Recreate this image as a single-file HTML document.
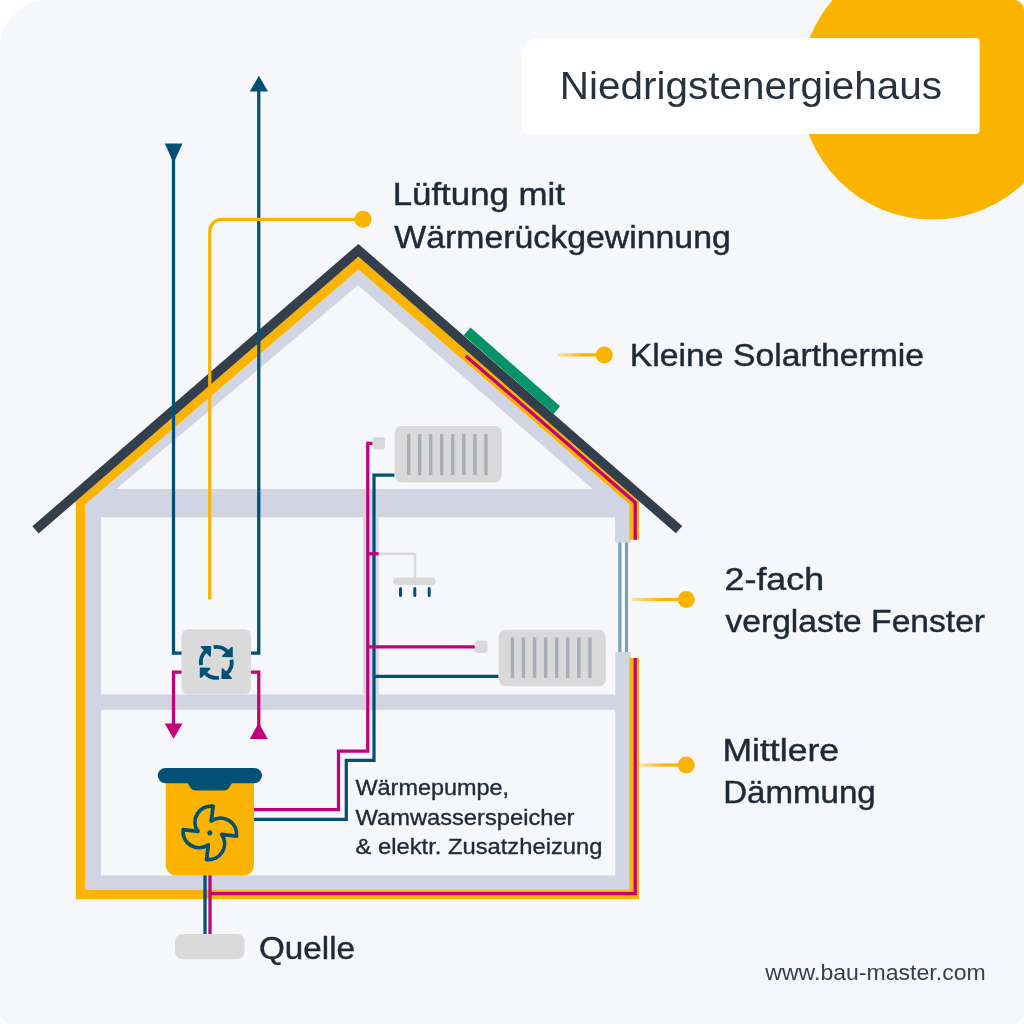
<!DOCTYPE html>
<html lang="de">
<head>
<meta charset="utf-8">
<title>Niedrigstenergiehaus</title>
<style>
  html, body { margin: 0; padding: 0; background: #ffffff; }
  body { width: 1024px; height: 1024px; overflow: hidden; }
  svg { display: block; will-change: transform; transform: translateZ(0); }
  text { font-family: "Liberation Sans", sans-serif; fill: #1f2937; }
  .lbl { font-size: 31px; stroke: #1f2937; stroke-width: 0.45px; }
  .sm { font-size: 21.8px; stroke: #1f2937; stroke-width: 0.35px; }
  .pipe { fill: none; stroke-width: 3.25; }
  .mag { stroke: #c2007b; }
  .blu { stroke: #035076; }
</style>
</head>
<body>
<svg width="1024" height="1024" viewBox="0 0 1024 1024">
  <defs>
    <clipPath id="card">
      <path d="M48 0H1014A10 10 0 0 1 1024 10V1012A12 12 0 0 1 1012 1024H12A12 12 0 0 1 0 1012V48A48 48 0 0 1 48 0Z"/>
    </clipPath>
    <linearGradient id="fade" x1="0" y1="0" x2="1" y2="0">
      <stop offset="0" stop-color="#fab400" stop-opacity="0.3"/>
      <stop offset="0.55" stop-color="#fab400" stop-opacity="1"/>
    </linearGradient>
  </defs>

  <!-- card background -->
  <g clip-path="url(#card)">
    <rect x="0" y="0" width="1024" height="1024" fill="#f6f7fa"/>
    <circle cx="932.6" cy="87" r="132.5" fill="#fab400"/>
  </g>

  <!-- title -->
  <path d="M538 38H975.6A4 4 0 0 1 979.6 42V130A4 4 0 0 1 975.6 134H526A4 4 0 0 1 522 130V54A16 16 0 0 1 538 38Z" fill="#ffffff"/>
  <text x="559.8" y="99.2" style="font-size:38.5px;fill:#28323f" textLength="382.3" lengthAdjust="spacingAndGlyphs">Niedrigstenergiehaus</text>

  <!-- HOUSE -->
  <g id="house">
    <!-- gray structure -->
    <g fill="#d0d4e3">
      <!-- roof band + outer walls + bottom -->
      <path d="M85 504.4L358.4 269.4L629.5 504.4V542.5H615.25V489H592.75L358 285.25L116.25 489H101V875.6H615.25V652H630.75V889.75H85Z"/>
      <rect x="615.25" y="504" width="15.5" height="38.5"/>
      <!-- upper beam -->
      <rect x="95" y="489" width="526" height="28.25"/>
      <!-- floor beam -->
      <rect x="95" y="694.5" width="526" height="15.3"/>
    </g>
    <!-- interior wall -->
    <rect x="363" y="517.25" width="15.75" height="177.25" fill="#d4d8e6"/>

    <!-- window -->
    <rect x="618.25" y="542.5" width="3.4" height="109.5" fill="#759fb5"/>
    <rect x="624.8" y="542.5" width="3.2" height="109.5" fill="#759fb5"/>
    <rect x="621.65" y="542.5" width="3.15" height="109.5" fill="#f8f9fb"/>

    <!-- yellow insulation -->
    <path fill="#fab400" d="M75.8 899.25V501.25L358.4 256.5L639 500.9V539.75H629.5V504.4L358.4 269.4L85 504.4V889.75H629.5V658H639V899.25Z"/>

    <!-- dark roof -->
    <polyline points="35.5,529.9 358.4,250.25 679.05,529.7" fill="none" stroke="#333f4c" stroke-width="9.6" stroke-linejoin="miter" stroke-miterlimit="10"/>

    <!-- solar panel -->
    <polygon points="470.5,327.5 560.1,406.25 553.6,414 463.75,335.25" fill="#039367"/>
  </g>

  <!-- solar magenta pipe -->
  <polyline class="pipe mag" points="465.8,355.9 635.25,502.6 635.25,539.75"/>
  <polyline class="pipe mag" points="635.25,658 635.25,893.5 210,893.5"/>

  <!-- ventilation lines -->
  <polyline class="pipe blu" points="173.5,158 173.5,653 182,653"/>
  <polygon points="164.75,143.5 182.5,143.5 173.6,163" fill="#035076"/>
  <polyline class="pipe blu" points="258.75,90 258.75,653 250.5,653"/>
  <polygon points="249.75,91.5 268,91.5 258.85,75.75" fill="#035076"/>
  <polyline class="pipe mag" points="182,672.2 173.5,672.2 173.5,725"/>
  <polygon points="164.75,723.5 182.5,723.5 173.6,738.75" fill="#c2007b"/>
  <polyline class="pipe mag" points="250.5,672.2 258.75,672.2 258.75,738"/>
  <polygon points="249.75,739 267.75,739 258.75,722.75" fill="#c2007b"/>

  <!-- ventilation callout -->
  <path d="M209.75 599.5V231.4A12 12 0 0 1 221.75 219.4H363" fill="none" stroke="#fab400" stroke-width="3.25"/>
  <circle cx="363" cy="219.2" r="8.5" fill="#fab400"/>

  <!-- ventilation unit -->
  <rect x="181.5" y="629.3" width="69.4" height="65.1" rx="6.5" fill="#dadada"/>
  <g id="recycle" transform="translate(216.3 662.4)" fill="#035076" stroke="#035076">
    <g transform="rotate(0)">
      <path d="M-2.7 -15.2A15.4 15.4 0 0 1 11.8 -9.9" fill="none" stroke-width="3.85"/>
      <polygon points="15.6,-6 15.6,-14.7 6.7,-6.3" stroke-width="1.8" stroke-linejoin="round"/>
    </g>
    <g transform="rotate(90)">
      <path d="M-2.7 -15.2A15.4 15.4 0 0 1 11.8 -9.9" fill="none" stroke-width="3.85"/>
      <polygon points="15.6,-6 15.6,-14.7 6.7,-6.3" stroke-width="1.8" stroke-linejoin="round"/>
    </g>
    <g transform="rotate(180)">
      <path d="M-2.7 -15.2A15.4 15.4 0 0 1 11.8 -9.9" fill="none" stroke-width="3.85"/>
      <polygon points="15.6,-6 15.6,-14.7 6.7,-6.3" stroke-width="1.8" stroke-linejoin="round"/>
    </g>
    <g transform="rotate(270)">
      <path d="M-2.7 -15.2A15.4 15.4 0 0 1 11.8 -9.9" fill="none" stroke-width="3.85"/>
      <polygon points="15.6,-6 15.6,-14.7 6.7,-6.3" stroke-width="1.8" stroke-linejoin="round"/>
    </g>
  </g>

  <!-- heating pipes -->
  <path class="pipe mag" d="M254 809.5H338.5V751H367.75V443.3H372.75"/>
  <path class="pipe blu" d="M254 819.4H346.3V760.4H374V475H394.6"/>
  <path class="pipe mag" d="M367.75 553.75H378.75"/>
  <path class="pipe mag" d="M367.75 646.75H475"/>
  <path class="pipe blu" d="M374 676.25H498.6"/>

  <!-- shower -->
  <path d="M378.75 553.75H413.5A1.5 1.5 0 0 1 415 555.25V578" fill="none" stroke="#d9d9d9" stroke-width="2.6"/>
  <rect x="393" y="577.5" width="42.5" height="7.5" rx="3.75" fill="#d9d9d9"/>
  <g stroke="#035076" stroke-width="3" stroke-linecap="round">
    <path d="M400.5 588.5V595.5M414.8 588.5V595.5M429.2 588.5V595.5"/>
  </g>

  <!-- radiator 1 -->
  <rect x="372.5" y="437.1" width="12.5" height="12.4" rx="3" fill="#d9d9d9"/>
  <rect x="394.6" y="425.9" width="107.2" height="56.6" rx="7" fill="#d9d9d9"/>
  <g fill="#a9adb6">
    <rect x="407" y="434" width="3.4" height="41"/>
    <rect x="418" y="434" width="3.4" height="41"/>
    <rect x="429" y="434" width="3.4" height="41"/>
    <rect x="440.05" y="434" width="3.4" height="41"/>
    <rect x="451.1" y="434" width="3.4" height="41"/>
    <rect x="462.1" y="434" width="3.4" height="41"/>
    <rect x="473.2" y="434" width="3.4" height="41"/>
    <rect x="484.25" y="434" width="3.4" height="41"/>
  </g>

  <!-- radiator 2 -->
  <rect x="474.7" y="640.5" width="12.8" height="12.5" rx="3" fill="#d9d9d9"/>
  <rect x="498.6" y="629.8" width="107.2" height="56.4" rx="7" fill="#d9d9d9"/>
  <g fill="#a9adb6">
    <rect x="510.75" y="637.5" width="3.4" height="40.5"/>
    <rect x="521.8" y="637.5" width="3.4" height="40.5"/>
    <rect x="532.9" y="637.5" width="3.4" height="40.5"/>
    <rect x="543.95" y="637.5" width="3.4" height="40.5"/>
    <rect x="555" y="637.5" width="3.4" height="40.5"/>
    <rect x="566.05" y="637.5" width="3.4" height="40.5"/>
    <rect x="577.15" y="637.5" width="3.4" height="40.5"/>
    <rect x="588.2" y="637.5" width="3.4" height="40.5"/>
  </g>

  <!-- source pipes -->
  <path class="pipe blu" d="M205 875V934"/>
  <path class="pipe mag" d="M210 875V934"/>
  <rect x="175" y="934" width="69.5" height="25.3" rx="7.8" fill="#d9d9d9"/>

  <!-- heat pump -->
  <path d="M165.8 780H254V865.4A10 10 0 0 1 244 875.4H175.8A10 10 0 0 1 165.8 865.4Z" fill="#fab400"/>
  <rect x="157.8" y="768" width="104.2" height="15.2" rx="7.6" fill="#035076"/>
  <path d="M186.9 782H232.6L229 787.7A6 6 0 0 1 223.9 790.6H195.6A6 6 0 0 1 190.5 787.7Z" fill="#035076"/>
  <g transform="translate(209.8 832.9) rotate(-8) scale(2.65) translate(-12 -12)" fill="none" stroke="#035076" stroke-width="1.42" stroke-linecap="round" stroke-linejoin="round">
    <path d="M10.827 16.379a6.082 6.082 0 0 1-8.618-7.002l5.412 1.45a6.082 6.082 0 0 1 7.002-8.618l-1.45 5.412a6.082 6.082 0 0 1 8.618 7.002l-5.412-1.45a6.082 6.082 0 0 1-7.002 8.618l1.45-5.412Z"/>
    <circle cx="12" cy="12" r="0.95" fill="#035076" stroke="none"/>
  </g>

  <!-- callouts -->
  <rect x="557.5" y="353.3" width="47" height="3.2" fill="url(#fade)"/>
  <circle cx="604.25" cy="354.9" r="8.5" fill="#fab400"/>
  <rect x="631.5" y="597.9" width="55" height="3.2" fill="url(#fade)"/>
  <circle cx="686.25" cy="599.5" r="8.5" fill="#fab400"/>
  <rect x="639" y="763.4" width="47" height="3.2" fill="url(#fade)"/>
  <circle cx="686.25" cy="765" r="8.5" fill="#fab400"/>

  <!-- labels -->
  <text class="lbl" x="392.7" y="205.1" textLength="172.3" lengthAdjust="spacingAndGlyphs">Lüftung mit</text>
  <text class="lbl" x="394.3" y="247.5" textLength="336.5" lengthAdjust="spacingAndGlyphs">Wärmerückgewinnung</text>
  <text class="lbl" x="629.8" y="366.1" textLength="294.3" lengthAdjust="spacingAndGlyphs">Kleine Solarthermie</text>
  <text class="lbl" x="724.6" y="589.9" textLength="99.5" lengthAdjust="spacingAndGlyphs">2-fach</text>
  <text class="lbl" x="725.5" y="632.4" textLength="259.5" lengthAdjust="spacingAndGlyphs">verglaste Fenster</text>
  <text class="lbl" x="722.5" y="760.8" textLength="116.5" lengthAdjust="spacingAndGlyphs">Mittlere</text>
  <text class="lbl" x="723.2" y="803.3" textLength="152.5" lengthAdjust="spacingAndGlyphs">Dämmung</text>
  <text class="lbl" x="259" y="958.8" textLength="96" lengthAdjust="spacingAndGlyphs">Quelle</text>

  <text class="sm" x="355.5" y="795" textLength="153.5" lengthAdjust="spacingAndGlyphs">Wärmepumpe,</text>
  <text class="sm" x="355.5" y="825" textLength="219" lengthAdjust="spacingAndGlyphs">Wamwasserspeicher</text>
  <text class="sm" x="355.5" y="854.3" textLength="247" lengthAdjust="spacingAndGlyphs">&amp; elektr. Zusatzheizung</text>

  <text x="765.3" y="979.9" style="font-size:22px;fill:#36404c" textLength="220.4" lengthAdjust="spacingAndGlyphs">www.bau-master.com</text>
</svg>
</body>
</html>
